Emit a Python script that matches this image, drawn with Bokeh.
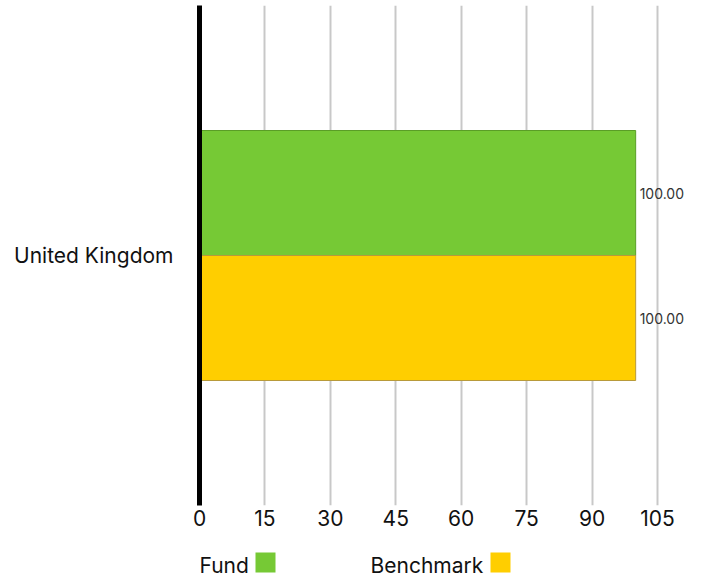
from bokeh.plotting import figure
from bokeh.layouts import column
from bokeh.models import ColumnDataSource, FixedTicker, Range1d, FactorRange
from bokeh.transform import dodge
from bokeh.core.properties import value
from bokeh.embed import file_html
from bokeh.resources import INLINE

# ---- data ----
countries = ["United Kingdom"]
fund = [100.00]
benchmark = [100.00]
series_names = ["Fund", "Benchmark"]
series_colors = ["#76C935", "#FFCE00"]
series_outline = ["#5A9E26", "#B89A3A"]
x_ticks = [0, 15, 30, 45, 60, 75, 90, 105]

FONT = "Inter"

src = ColumnDataSource(dict(
    country=countries,
    fund=fund,
    benchmark=benchmark,
    fund_lbl=[f"{v:.2f}" for v in fund],
    bench_lbl=[f"{v:.2f}" for v in benchmark],
))

p = figure(
    y_range=FactorRange(*countries, range_padding=0),
    x_range=Range1d(0, 112.8),
    frame_width=492, frame_height=500,
    min_border_left=199, min_border_right=0, min_border_top=5, min_border_bottom=30,
    output_backend="svg", toolbar_location=None,
)
p.outline_line_color = None
p.background_fill_color = "white"

bar_h = 0.25
p.hbar(y=dodge("country", bar_h / 2, range=p.y_range), left=0, right="fund", height=bar_h,
       source=src, fill_color=series_colors[0], line_color=series_outline[0], line_width=1)
p.hbar(y=dodge("country", -bar_h / 2, range=p.y_range), left=0, right="benchmark", height=bar_h,
       source=src, fill_color=series_colors[1], line_color=series_outline[1], line_width=1)

p.text(x="fund", y=dodge("country", bar_h / 2, range=p.y_range), text="fund_lbl", source=src,
       x_offset=4, text_baseline="middle", text_align="left", text_font=value(FONT),
       text_font_size="14px", text_color="#333333")
p.text(x="benchmark", y=dodge("country", -bar_h / 2, range=p.y_range), text="bench_lbl", source=src,
       x_offset=4, text_baseline="middle", text_align="left", text_font=value(FONT),
       text_font_size="14px", text_color="#333333")

# grid
p.ygrid.grid_line_color = None
p.xgrid.ticker = FixedTicker(ticks=x_ticks)
p.xgrid.grid_line_color = "#C8C8C8"
p.xgrid.grid_line_width = 2

# x axis
p.xaxis.ticker = FixedTicker(ticks=x_ticks)
p.xaxis.axis_line_color = None
p.xaxis.major_tick_line_color = None
p.xaxis.minor_tick_line_color = None
p.xaxis.major_label_text_font = FONT
p.xaxis.major_label_text_font_size = "21px"
p.xaxis.major_label_text_color = "#111111"
p.xaxis.major_label_standoff = -2

# y axis
p.yaxis.axis_line_color = "black"
p.yaxis.axis_line_width = 5
p.yaxis.major_tick_line_color = None
p.yaxis.minor_tick_line_color = None
p.yaxis.major_label_text_font = FONT
p.yaxis.major_label_text_font_size = "21px"
p.yaxis.major_label_text_color = "#111111"
p.yaxis.major_label_standoff = 20

# ---- legend (text then swatch); frame aligned with main frame at page x=199 ----
lg = figure(frame_width=492, frame_height=46, x_range=Range1d(199, 691), y_range=Range1d(0, 46),
            min_border_left=199, min_border_right=0, min_border_top=0, min_border_bottom=0,
            output_backend="svg", toolbar_location=None)
lg.axis.visible = False
lg.grid.visible = False
lg.outline_line_color = None

text_x = [199, 370]
swatch_x = [265, 500]
lsrc = ColumnDataSource(dict(name=series_names, color=series_colors, tx=text_x, sx=swatch_x))
lg.text(x="tx", y=16, text="name", source=lsrc, text_baseline="middle", text_align="left",
        text_font=value(FONT), text_font_size="21px", text_color="#111111")
lg.rect(x="sx", y=19, width=20, height=20, width_units="screen", height_units="screen",
        source=lsrc, fill_color="color", line_color=None)

layout = column(p, lg, spacing=0)
open("out.html", "w").write(file_html(layout, INLINE))
